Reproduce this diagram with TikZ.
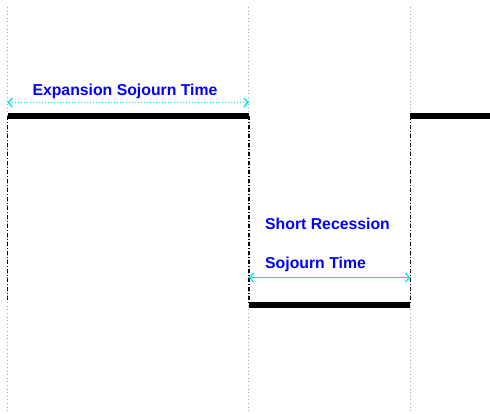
\documentclass[tikz,border=0pt]{standalone}
\usepackage{fontspec}
\setmainfont{Liberation Sans}
\usetikzlibrary{arrows.meta}
\definecolor{spancol}{RGB}{0,230,240}
\tikzset{
  grid/.style={gray!70, line width=0.8pt, dash pattern=on 0.8pt off 2.8pt},
  level/.style={black, line width=6.5pt},
  jump/.style={black, line width=1.4pt, dash pattern=on 4pt off 2pt on 1pt off 2pt},
  span/.style={spancol, line width=1pt, {Straight Barb[length=4pt,width=9pt,line width=1.3pt]}-{Straight Barb[length=4pt,width=9pt,line width=1.3pt]}},
  lbl/.style={text=blue, font=\fontsize{15.8}{18}\selectfont\bfseries, inner sep=0pt}
}
\begin{document}
\begin{tikzpicture}[x=1pt,y=-1pt]
\useasboundingbox (0,0) rectangle (490,413);
% grid coordinates
\coordinate (g1t) at (7.5,7);   \coordinate (g1b) at (7.5,413);
\coordinate (g2t) at (248.8,7); \coordinate (g2b) at (248.8,413);
\coordinate (g3t) at (410.3,7); \coordinate (g3b) at (410.3,413);
\draw[grid] (g1t) -- (g1b);
\draw[grid] (g2t) -- (g2b);
\draw[grid] (g3t) -- (g3b);
% levels
\coordinate (a1) at (7.5,116);
\coordinate (a2) at (248.8,116);
\coordinate (b1) at (248.8,305);
\coordinate (b2) at (410.3,305);
\coordinate (c1) at (410.3,116);
\coordinate (c2) at (490,116);
\coordinate (d1) at (7.5,302);
% jumps
\draw[jump] (a1) -- (d1);
\draw[jump] (a2) -- (b1);
\draw[jump] (c1) -- (b2);
\draw[level] (a1) -- (a2);
\draw[level] (b1) -- (b2);
\draw[level] (c1) -- (c2);
% spans
\coordinate (s1a) at (7.5,102.5);
\coordinate (s1b) at (248.8,102.5);
\coordinate (s2a) at (248.8,277.5);
\coordinate (s2b) at (410.3,277.5);
\draw[span, dash pattern=on 1pt off 2pt] (s1a) -- (s1b);
\draw[span] (s2a) -- (s2b);
% labels
\node[lbl, anchor=base west] (t1) at (32.3,95) {Expansion Sojourn Time};
\node[lbl, anchor=base west] (t2) at (265,229) {Short Recession};
\node[lbl, anchor=base west] (t3) at (265,268) {Sojourn Time};
\end{tikzpicture}
\end{document}
